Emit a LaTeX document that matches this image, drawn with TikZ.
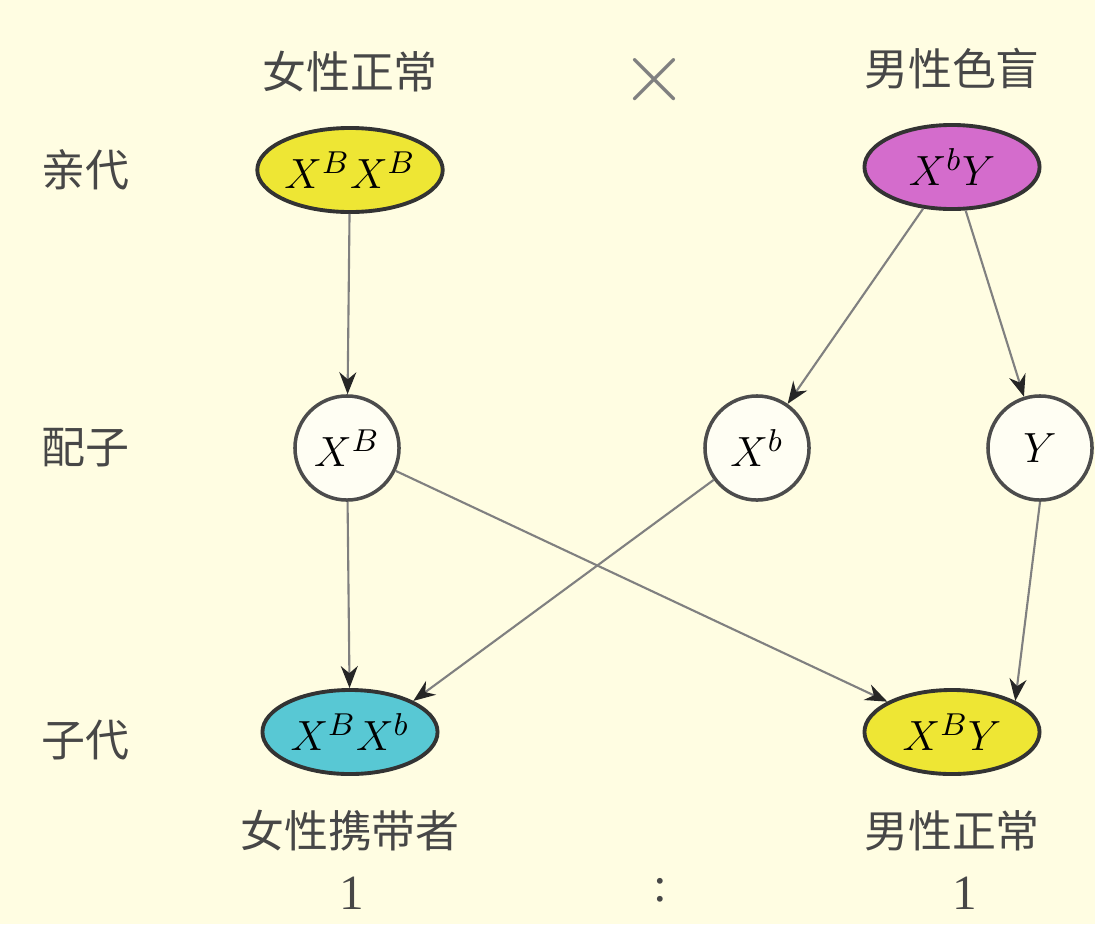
\documentclass[tikz,border=0pt]{standalone}
\usepackage{fontspec}
\setmainfont{Liberation Serif}
\newfontfamily\cjk{Noto Sans CJK SC}
\usetikzlibrary{shapes.geometric,arrows.meta,positioning}

\definecolor{paper}{RGB}{255,253,226}
\definecolor{normyellow}{RGB}{238,230,52}
\definecolor{blindpink}{RGB}{212,108,204}
\definecolor{carrycyan}{RGB}{88,200,212}

\tikzset{
  parent/.style={ellipse, draw=black!80, line width=1.1pt, minimum width=1.75cm,
    minimum height=0.84cm, inner sep=0pt, font=\fontsize{13}{13}\selectfont},
  gamete/.style={circle, draw=black!70, line width=1pt, fill=white!60!paper,
    minimum size=1.04cm, inner sep=0pt, font=\fontsize{13}{13}\selectfont},
  cntext/.style={inner sep=1pt, text=black!72, font=\cjk\fontsize{12.5}{14}\selectfont},
  cross/.style={-{Stealth[length=2.2mm,width=1.7mm,color=black!85]}, black!50, line width=0.6pt},
}

\begin{document}
\begin{tikzpicture}[x=0.01cm, y=-0.01cm]
    \fill[paper] (0,0) rectangle (1095,924);
    \useasboundingbox (0,0) rectangle (1095,924);

    % row names
    \node [cntext] (rowp) at (85,170) {亲代};
    \node [cntext] (rowg) at (85,448) {配子};
    \node [cntext] (rowo) at (85,740) {子代};

    % parents
    \node [parent, fill=normyellow] (p1) at (350,170) {$X^{B}X^{B}$};
    \node [parent, fill=blindpink] (p2) at (952,167) {$X^{b}Y$};
    \node [cntext] [above=0.3cm of p1] (p1name) {女性正常};
    \node [cntext] [above=0.3cm of p2] (p2name) {男性色盲};
    \node [text=black!50, font=\fontsize{30}{30}\selectfont] (times) at (655,80) {$\times$};

    % gametes
    \node [gamete] (g1) at (347,448) {$X^{B}$};
    \node [gamete] (g2) at (757,448) {$X^{b}$};
    \node [gamete] (g3) at (1040,448) {$Y$};

    % offspring
    \node [parent, fill=carrycyan] (o1) at (350,732) {$X^{B}X^{b}$};
    \node [parent, fill=normyellow] (o2) at (952,732) {$X^{B}Y$};
    \node [cntext] [below=0.3cm of o1] (o1name) {女性携带者};
    \node [cntext] [below=0.3cm of o2] (o2name) {男性正常};

    % ratio
    \node [text=black!72, font=\fontsize{14}{14}\selectfont] (r1) at (352,893) {1};
    \node [text=black!72, font=\fontsize{14}{14}\selectfont] (rc) at (660,890) {:};
    \node [text=black!72, font=\fontsize{14}{14}\selectfont] (r2) at (965,893) {1};

      \path[cross]
      (p1) edge (g1)
      (p2) edge (g2)
      (p2) edge (g3)
      (g1) edge (o1)
      (g1) edge (o2)
      (g2) edge (o1.north east)
      (g3.south) edge (o2.north east)
      ;
\end{tikzpicture}
\end{document}
